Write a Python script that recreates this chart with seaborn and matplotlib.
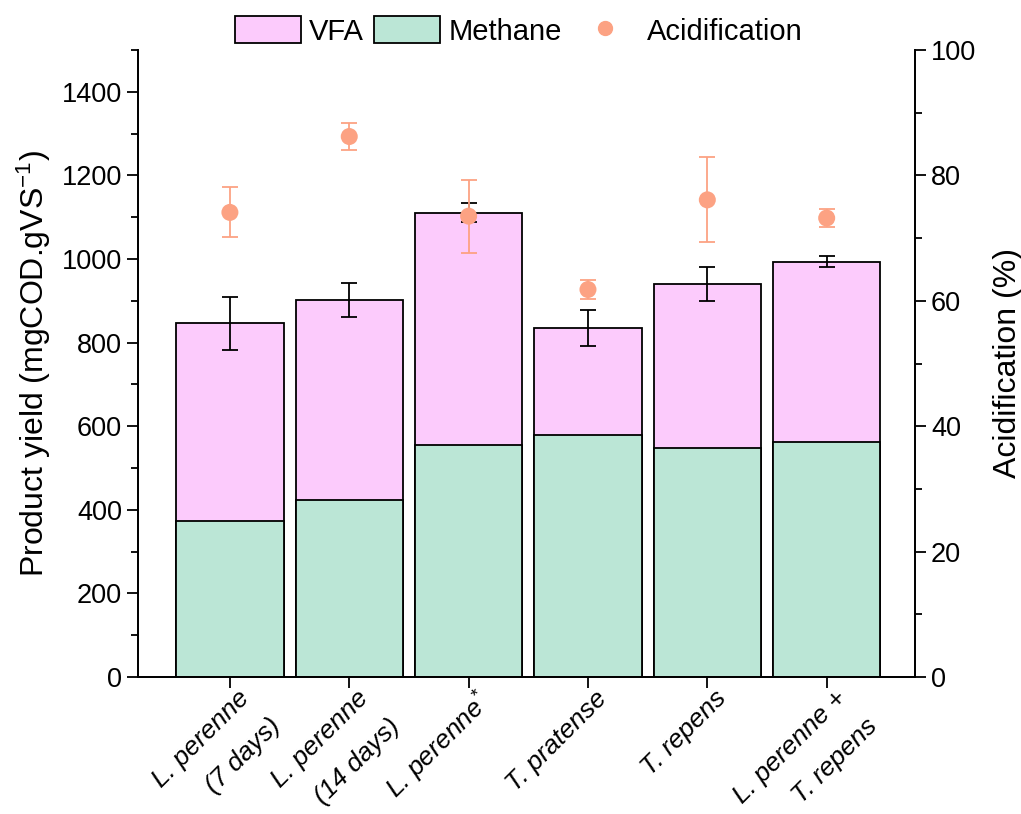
import matplotlib
matplotlib.use("Agg")
import matplotlib.pyplot as plt
import matplotlib.transforms as mtransforms
import seaborn as sns
import pandas as pd
import numpy as np
from matplotlib.patches import Patch
from matplotlib.lines import Line2D
from matplotlib.ticker import MultipleLocator

categories = ["L. perenne\n(7 days)", "L. perenne\n(14 days)", "L. perenne$^{*}$",
              "T. pratense", "T. repens", "L. perenne +\nT. repens"]
methane = [374, 424, 554, 578, 549, 562]
total_yield = [846, 902, 1111, 834, 940, 994]
total_err = [63, 40, 23, 43, 41, 13]
acidification = [74.1, 86.2, 73.5, 61.8, 76.1, 73.2]
acid_err = [4.0, 2.2, 5.8, 1.5, 6.8, 1.4]

sns.set_theme(style="ticks")
plt.rcParams["font.family"] = ["Liberation Sans", "DejaVu Sans"]
plt.rcParams["mathtext.fontset"] = "custom"
plt.rcParams["mathtext.rm"] = "Liberation Sans"
plt.rcParams["mathtext.it"] = "Liberation Sans:italic"
plt.rcParams["mathtext.default"] = "regular"
plt.rcParams["axes.linewidth"] = 1.3
for k in ["text.color", "axes.labelcolor", "xtick.color", "ytick.color", "axes.edgecolor"]:
    plt.rcParams[k] = "black"

vfa_color = "#FCCBFC"
meth_color = "#BBE6D6"
acid_color = "#FCA283"
fs_tick = 19.5
fs_xtick = 19
fs_label = 23
fs_leg = 21

df = pd.DataFrame({"cat": categories, "total": total_yield, "methane": methane})

fig, ax = plt.subplots(figsize=(10.21, 8.14), dpi=100)
fig.subplots_adjust(left=138/1021, right=915/1021, top=1-50/814, bottom=1-677/814)

sns.barplot(data=df, x="cat", y="total", color=vfa_color, width=0.9,
            edgecolor="black", linewidth=1.3, saturation=1, ax=ax, errorbar=None)
sns.barplot(data=df, x="cat", y="methane", color=meth_color, width=0.9,
            edgecolor="black", linewidth=1.3, saturation=1, ax=ax, errorbar=None)
x = np.arange(len(categories))
ax.errorbar(x, total_yield, yerr=total_err, fmt="none", ecolor="black",
            elinewidth=1.3, capsize=6, capthick=1.3, zorder=5)

ax.set_xlim(-0.77, 5.74)
ax.set_ylim(0, 1500)
ax.yaxis.set_major_locator(MultipleLocator(200))
ax.yaxis.set_minor_locator(MultipleLocator(100))
ax.set_xlabel("")
ax.set_ylabel("Product yield (mgCOD.gVS$^{-1}$)", fontsize=fs_label, labelpad=6)
ax.tick_params(axis="both", which="major", labelsize=fs_tick, length=8, width=1.3, direction="out")
ax.tick_params(axis="y", which="minor", length=5, width=1.3, direction="out")

# x tick labels: first line as tick label, second line placed just below it
first_lines = [c.split("\n")[0] for c in categories]
second_lines = [c.split("\n")[1] if "\n" in c else "" for c in categories]
ax.set_xticks(x)
ax.set_xticklabels(first_lines, rotation=45, ha="right", va="top", rotation_mode="anchor",
                   fontstyle="italic", fontsize=fs_xtick)
offset = mtransforms.ScaledTranslation(7/100, 7/100, fig.dpi_scale_trans)
for lab in ax.get_xticklabels():
    lab.set_transform(lab.get_transform() + offset)
blend = mtransforms.blended_transform_factory(ax.transData, ax.transAxes)
for xi, txt in zip(x, second_lines):
    if txt:
        ax.annotate(txt, xy=(xi, 0), xycoords=blend, xytext=(38, -37),
                    textcoords="offset pixels", rotation=45, ha="right", va="top",
                    rotation_mode="anchor", fontstyle="italic", fontsize=fs_xtick,
                    annotation_clip=False)

ax2 = ax.twinx()
ax2.errorbar(x, acidification, yerr=acid_err, fmt="none", ecolor=acid_color,
             elinewidth=1.3, capsize=6, capthick=1.3, zorder=5)
sns.scatterplot(x=x, y=acidification, color=acid_color, s=150, edgecolor="none",
                ax=ax2, zorder=6, legend=False)
ax2.set_ylim(0, 100)
ax2.set_xlim(-0.77, 5.74)
ax2.yaxis.set_major_locator(MultipleLocator(20))
ax2.yaxis.set_minor_locator(MultipleLocator(10))
ax2.set_ylabel("Acidification (%)", fontsize=fs_label, labelpad=12)
ax2.tick_params(axis="y", which="major", labelsize=fs_tick, length=8, width=1.3, direction="out")
ax2.tick_params(axis="y", which="minor", length=5, width=1.3, direction="out")
ax.spines["top"].set_visible(False)
ax2.spines["top"].set_visible(False)
ax2.spines["right"].set_visible(True)

handles = [Patch(facecolor=vfa_color, edgecolor="black", linewidth=1.3),
           Patch(facecolor=meth_color, edgecolor="black", linewidth=1.3),
           Line2D([], [], marker="o", color=acid_color, linestyle="none", markersize=10)]
fig.legend(handles, ["VFA", "Methane", "Acidification"], loc="center",
           bbox_to_anchor=(0.508, 1-31/814), ncol=3, frameon=False, fontsize=fs_leg,
           handlelength=2.25, handleheight=1.05, columnspacing=0.35, handletextpad=0.3,
           borderpad=0)

fig.savefig("out.png", dpi=100)
